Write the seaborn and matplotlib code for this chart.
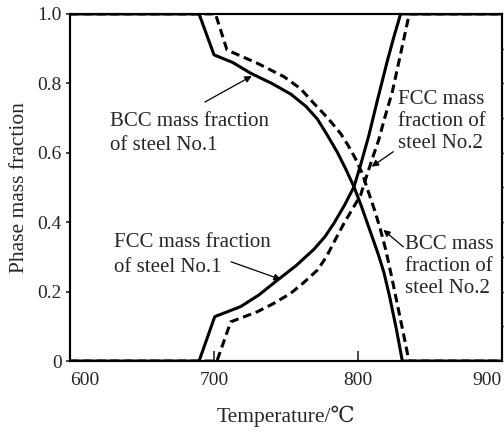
import numpy as np
import pandas as pd
import matplotlib
matplotlib.use("Agg")
import matplotlib.pyplot as plt
import seaborn as sns

# Steel No.1 (solid)
bcc1_T = [600, 689.6, 700.0, 713.0, 725.5, 740.0, 753.3, 764.0, 771.8, 778.8, 785.7, 791.5, 797.2, 802.0, 806.5, 810.5, 814.5, 818.0, 822.0, 826.5, 830.8, 900]
bcc1_f = [1.0, 1.0, 0.882, 0.860, 0.829, 0.800, 0.769, 0.733, 0.697, 0.650, 0.601, 0.553, 0.502, 0.450, 0.397, 0.350, 0.302, 0.255, 0.185, 0.095, 0.0, 0.0]
fcc1_T = [600, 689.6, 700.5, 718.5, 731.0, 744.0, 757.0, 769.4, 777.0, 783.3, 790.5, 797.2, 801.8, 807.6, 813.4, 820.4, 825.0, 829.6, 900]
fcc1_f = [0.0, 0.0, 0.128, 0.157, 0.190, 0.233, 0.275, 0.322, 0.358, 0.397, 0.448, 0.502, 0.565, 0.651, 0.750, 0.865, 0.935, 1.0, 1.0]

# Steel No.2 (dashed)
bcc2_T = [600, 701.0, 709.0, 714.0, 730.0, 748.6, 760.0, 769.4, 779.0, 788.0, 793.0, 798.0, 803.0, 807.0, 811.5, 815.5, 819.3, 823.5, 827.5, 831.5, 835.4, 900]
bcc2_f = [1.0, 1.0, 0.896, 0.887, 0.858, 0.819, 0.785, 0.742, 0.700, 0.655, 0.622, 0.585, 0.540, 0.490, 0.435, 0.380, 0.320, 0.240, 0.160, 0.080, 0.0, 0.0]
fcc2_T = [600, 702.0, 711.6, 730.0, 741.0, 753.2, 762.0, 771.8, 778.0, 784.0, 790.3, 796.0, 801.8, 806.5, 810.5, 814.6, 818.5, 823.8, 829.6, 835.6, 900]
fcc2_f = [0.0, 0.0, 0.113, 0.142, 0.165, 0.195, 0.225, 0.262, 0.300, 0.348, 0.397, 0.437, 0.478, 0.540, 0.590, 0.640, 0.700, 0.775, 0.885, 1.0, 1.0]

x_ticks = [600, 700, 800, 900]
y_ticks = [0, 0.2, 0.4, 0.6, 0.8, 1.0]
y_tick_labels = ["0", "0.2", "0.4", "0.6", "0.8", "1.0"]

annotations = [
    ("BCC mass fraction\nof steel No.1", (627.8, 0.718), (693.6, 0.746), (726.2, 0.821), 1.40),
    ("FCC mass fraction\nof steel No.1", (630.8, 0.369), (711.8, 0.286), (746.5, 0.235), 1.40),
    ("FCC mass\nfraction of\nsteel No.2", (828.0, 0.781), (824.5, 0.603), (809.5, 0.560), 1.20),
    ("BCC mass\nfraction of\nsteel No.2", (832.6, 0.363), (831.5, 0.329), (817.6, 0.378), 1.20),
]

sns.set_style("ticks")
plt.rcParams['font.family'] = ['Liberation Serif', 'DejaVu Serif']

fig = plt.figure(figsize=(5.04, 4.34), dpi=100)
ax = fig.add_axes([0.139, 0.168, 0.857, 0.800])

curves = [
    (bcc1_T, bcc1_f, "solid"),
    (fcc1_T, fcc1_f, "solid"),
    (bcc2_T, bcc2_f, "dashed"),
    (fcc2_T, fcc2_f, "dashed"),
]
for T, f, style in curves:
    df = pd.DataFrame({"T": T, "f": f})
    sns.lineplot(data=df, x="T", y="f", ax=ax, sort=False, color="black",
                 lw=2.2, estimator=None)
    if style == "dashed":
        ax.lines[-1].set_linestyle((0, (2.8, 1.6)))

ax.set_xlim(600, 900)
ax.set_ylim(0, 1.0)
ax.set_xticks(x_ticks)
ax.set_yticks(y_ticks)
ax.set_yticklabels(y_tick_labels)
ax.set_xticklabels([str(v) for v in x_ticks])
labs = ax.get_xticklabels()
labs[0].set_horizontalalignment("left")
labs[-1].set_horizontalalignment("right")

ax.tick_params(axis="y", direction="out", length=3, width=1.2, labelsize=14, pad=3)
ax.tick_params(axis="x", direction="in", length=7, width=1.2, labelsize=14, pad=8)

# right side minor ticks
axr = ax.twinx()
axr.set_ylim(0, 1.0)
axr.set_yticks(np.arange(0.1, 1.0, 0.1))
axr.tick_params(axis="y", direction="out", length=3, width=1.0, labelright=False)

for a in (ax, axr):
    for s in a.spines.values():
        s.set_linewidth(1.5)
        s.set_color("black")

ax.set_xlabel("Temperature/℃", fontsize=15.5, labelpad=12)
ax.set_ylabel("Phase mass fraction", fontsize=15.5, labelpad=6)

for text, tpos, tail, head, ls in annotations:
    ax.text(tpos[0], tpos[1], text, fontsize=15, ha="left", va="top", linespacing=ls)
    ax.annotate("", xy=head, xytext=tail,
                arrowprops=dict(arrowstyle="-|>", color="black", lw=0.9,
                                mutation_scale=10, shrinkA=0, shrinkB=0))

fig.savefig("out.png", dpi=100)
